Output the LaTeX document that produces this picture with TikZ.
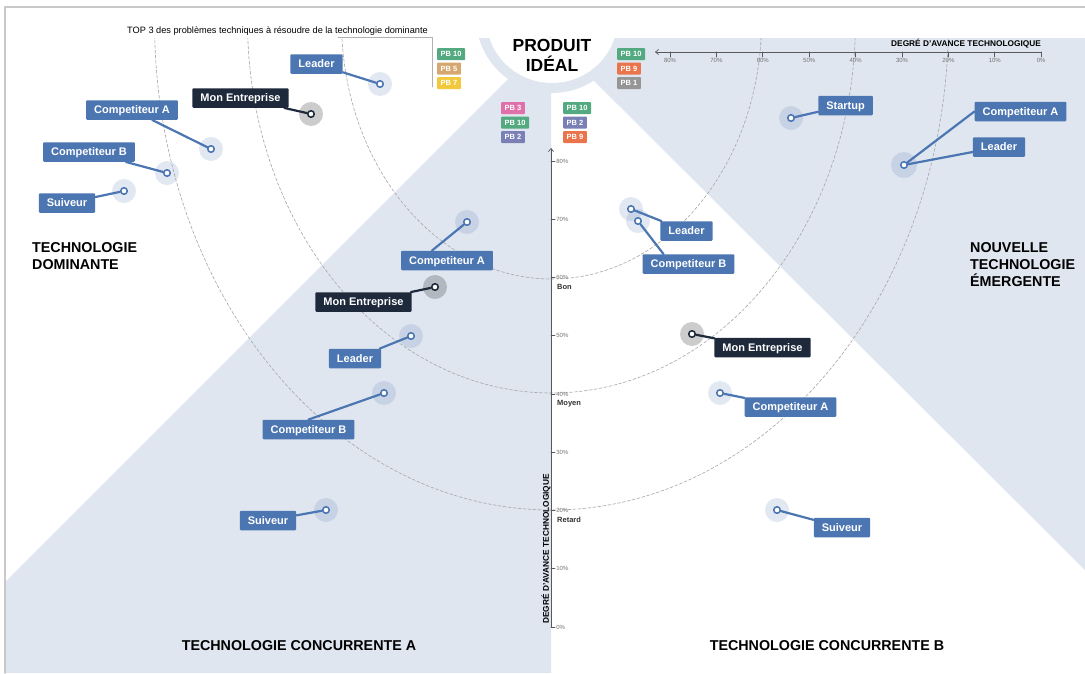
\documentclass[tikz,border=0pt]{standalone}
\usepackage{fontspec}
\setmainfont{Liberation Sans}
\usetikzlibrary{arrows.meta}

\definecolor{zonec}{RGB}{223,230,239}
\definecolor{lblue}{RGB}{76,118,178}
\definecolor{ldark}{RGB}{30,42,60}
\definecolor{framegray}{RGB}{200,200,200}
\definecolor{pbgreen}{RGB}{84,170,128}
\definecolor{pbtan}{RGB}{214,168,112}
\definecolor{pbyellow}{RGB}{242,200,60}
\definecolor{pbpink}{RGB}{224,112,170}
\definecolor{pbpurple}{RGB}{122,128,182}
\definecolor{pborange}{RGB}{234,116,76}
\definecolor{pbgray}{RGB}{150,150,150}

\tikzset{
  lbl/.style={fill=lblue, text=white, font=\fontsize{11}{13}\selectfont\bfseries, inner xsep=8pt, inner ysep=0pt, text height=7.9pt, text depth=0pt, minimum height=19.5pt, rounded corners=1pt},
  lbldark/.style={lbl, fill=ldark},
  halo/.style={fill=lblue, fill opacity=0.16},
  halodark/.style={fill=black, fill opacity=0.2},
  dotb/.style={circle, fill=white, draw=lblue, line width=1.6pt, inner sep=0pt, minimum size=6.5pt},
  dotdark/.style={dotb, draw=ldark},
  con/.style={lblue, line width=2.2pt},
  condark/.style={ldark, line width=2.2pt},
  pb/.style={fill=#1, text=white, font=\fontsize{7.5}{8}\selectfont\bfseries, inner xsep=3.5pt, inner ysep=0pt, text height=5.4pt, text depth=0pt, minimum height=12pt, anchor=west, rounded corners=0.8pt},
  zonetitle/.style={font=\fontsize{14.3}{17}\selectfont\bfseries, align=left, inner sep=0pt},
  ticklbl/.style={font=\fontsize{6}{7}\selectfont, text=black!55, inner sep=1pt},
  level/.style={font=\fontsize{7.5}{8}\selectfont\bfseries, text=black!80, inner sep=0pt, anchor=west},
  axisline/.style={black!65, line width=0.7pt},
  arcline/.style={black!35, line width=0.6pt, dash pattern=on 3pt off 2pt}
}

\begin{document}
\begin{tikzpicture}[x=1pt,y=-1pt,line cap=round,line join=round]
\useasboundingbox (0,0) rectangle (1085,673);
\fill[white] (0,0) rectangle (1085,673);

% zones
\fill[zonec] (5,582) -- (551,36) -- (551,673) -- (5,673) -- cycle;
\fill[zonec] (551,38) -- (1085,38) -- (1085,570) -- cycle;
\begin{scope}
  \clip (0,38) rectangle (1085,673);
  \fill[zonec] (552,17) circle (76pt);
  \fill[white] (552,17) circle (66pt);
  \draw[arcline] (551.5,21) ellipse [x radius=210pt, y radius=258pt];
  \draw[arcline] (551.5,21) ellipse [x radius=304pt, y radius=372pt];
  \draw[arcline] (551.5,21) ellipse [x radius=397pt, y radius=489pt];
\end{scope}
\draw[framegray, line width=1.5pt] (5,673) -- (5,7) -- (1085,7);

% titles
\node[font=\fontsize{17.5}{20}\selectfont\bfseries, align=center] (ideal) at (552,55) {PRODUIT\\IDÉAL};
\node[zonetitle, anchor=west] (tdom) at (32,256.5) {TECHNOLOGIE\\DOMINANTE};
\node[zonetitle, anchor=west] (tnew) at (970,265) {NOUVELLE\\TECHNOLOGIE\\ÉMERGENTE};
\node[zonetitle] (tconcA) at (299,646) {TECHNOLOGIE CONCURRENTE A};
\node[zonetitle] (tconcB) at (827,646) {TECHNOLOGIE CONCURRENTE B};
\node[font=\fontsize{9.2}{11}\selectfont, inner sep=0pt] (top3) at (277.5,31) {TOP 3 des problèmes techniques à résoudre de la technologie dominante};
\draw[black!30, line width=0.6pt] (338,37.5) -| (432,87);

% axes
\draw[axisline, -{Straight Barb[length=3pt,width=5pt]}] (1041,52) -- (655,52);
\foreach \v [count=\i from 0] in {80,70,...,0}
  \draw[axisline] ({670+46.4*\i},52) -- ++(0,5) node[ticklbl, anchor=north] {\v\%};
\node[font=\fontsize{8.3}{9}\selectfont\bfseries, inner sep=0pt, anchor=east] (avtop) at (1041,44) {DEGRÉ D'AVANCE TECHNOLOGIQUE};
\draw[axisline, -{Straight Barb[length=3pt,width=5pt]}] (551,627) -- (551,148);
\foreach \v [count=\i from 0] in {0,10,...,80}
  \draw[axisline] (551,{627-58.25*\i}) -- ++(4,0) node[ticklbl, anchor=west] {\v\%};
\node[level] (bon) at (557,287) {Bon};
\node[level] (moyen) at (557,404) {Moyen};
\node[level] (retard) at (557,520) {Retard};
\node[font=\fontsize{8.3}{9}\selectfont\bfseries, inner sep=0pt, rotate=90] (avside) at (546,549) {DEGRÉ D'AVANCE TECHNOLOGIQUE};

% problemes techniques
\node[pb=pbgreen] (pbd1) at (437,54) {PB 10};
\node[pb=pbtan] (pbd2) at (437,68.5) {PB 5};
\node[pb=pbyellow] (pbd3) at (437,83) {PB 7};
\node[pb=pbgreen] (pbn1) at (617,54) {PB 10};
\node[pb=pborange] (pbn2) at (617,68.5) {PB 9};
\node[pb=pbgray] (pbn3) at (617,83) {PB 1};
\node[pb=pbpink] (pba1) at (501,108) {PB 3};
\node[pb=pbgreen] (pba2) at (501,122.5) {PB 10};
\node[pb=pbpurple] (pba3) at (501,137) {PB 2};
\node[pb=pbgreen] (pbb1) at (563,108) {PB 10};
\node[pb=pbpurple] (pbb2) at (563,122.5) {PB 2};
\node[pb=pborange] (pbb3) at (563,137) {PB 9};

% technologie dominante
\fill[halo] (380,84) circle (12pt);
\fill[halodark] (311,114) circle (12pt);
\fill[halo] (211,149) circle (12pt);
\fill[halo] (167,173) circle (12pt);
\fill[halo] (124,191) circle (12pt);
\node[dotb] (ddom1) at (380,84) {};
\node[dotdark] (ddom2) at (311,114) {};
\node[dotb] (ddom3) at (211,149) {};
\node[dotb] (ddom4) at (167,173) {};
\node[dotb] (ddom5) at (124,191) {};
\node[lbl] (dom1) at (316.5,64) {Leader};
\node[lbldark] (dom2) at (240.5,98) {Mon Entreprise};
\node[lbl] (dom3) at (132,110) {Competiteur A};
\node[lbl] (dom4) at (89,152) {Competiteur B};
\node[lbl] (dom5) at (67,203) {Suiveur};
\draw[con] (ddom1) -- (dom1);
\draw[condark] (ddom2) -- (dom2);
\draw[con] (ddom3) -- (dom3);
\draw[con] (ddom4) -- (dom4);
\draw[con] (ddom5) -- (dom5);

% technologie concurrente A
\fill[halo] (467,222) circle (12pt);
\fill[halodark] (435,287) circle (12pt);
\fill[halo] (411,336) circle (12pt);
\fill[halo] (384,393) circle (12pt);
\fill[halo] (326,510) circle (12pt);
\node[dotb] (dca1) at (467,222) {};
\node[dotdark] (dca2) at (435,287) {};
\node[dotb] (dca3) at (411,336) {};
\node[dotb] (dca4) at (384,393) {};
\node[dotb] (dca5) at (326,510) {};
\node[lbl] (ca1) at (447,260.5) {Competiteur A};
\node[lbldark] (ca2) at (363.5,302) {Mon Entreprise};
\node[lbl] (ca3) at (355,358.5) {Leader};
\node[lbl] (ca4) at (308.5,429.5) {Competiteur B};
\node[lbl] (ca5) at (268,520.5) {Suiveur};
\draw[con] (dca1) -- ([xshift=-15pt]ca1.north);
\draw[condark] (dca2) -- (ca2);
\draw[con] (dca3) -- (ca3);
\draw[con] (dca4) -- (ca4.north);
\draw[con] (dca5) -- (ca5);

% technologie concurrente B
\fill[halo] (631,209) circle (12pt);
\fill[halo] (638,221) circle (12pt);
\fill[halodark] (692,334) circle (12pt);
\fill[halo] (720,393) circle (12pt);
\fill[halo] (777,510) circle (12pt);
\node[dotb] (dcb1) at (631,209) {};
\node[dotb] (dcb2) at (638,221) {};
\node[dotdark] (dcb3) at (692,334) {};
\node[dotb] (dcb4) at (720,393) {};
\node[dotb] (dcb5) at (777,510) {};
\node[lbl] (cb1) at (686.5,231) {Leader};
\node[lbl] (cb2) at (688.5,264) {Competiteur B};
\node[lbldark] (cb3) at (762.5,347.5) {Mon Entreprise};
\node[lbl] (cb4) at (790.5,407) {Competiteur A};
\node[lbl] (cb5) at (842,527.5) {Suiveur};
\draw[con] (dcb1) -- (cb1);
\draw[con] (dcb2) -- ([xshift=-25pt]cb2.north);
\draw[condark] (dcb3) -- (cb3);
\draw[con] (dcb4) -- (cb4);
\draw[con] (dcb5) -- (cb5);

% nouvelle technologie
\fill[halo] (791,118) circle (12pt);
\fill[halo] (904,165) circle (13pt);
\node[dotb] (dnew1) at (791,118) {};
\node[dotb] (dnew2) at (904,165) {};
\node[lbl] (new1) at (845.5,105.5) {Startup};
\node[lbl] (new2) at (1020.5,111.5) {Competiteur A};
\node[lbl] (new3) at (999,147) {Leader};
\draw[con] (dnew1) -- (new1);
\draw[con] (dnew2) -- (new2.west);
\draw[con] (dnew2) -- (new3);
\end{tikzpicture}
\end{document}
